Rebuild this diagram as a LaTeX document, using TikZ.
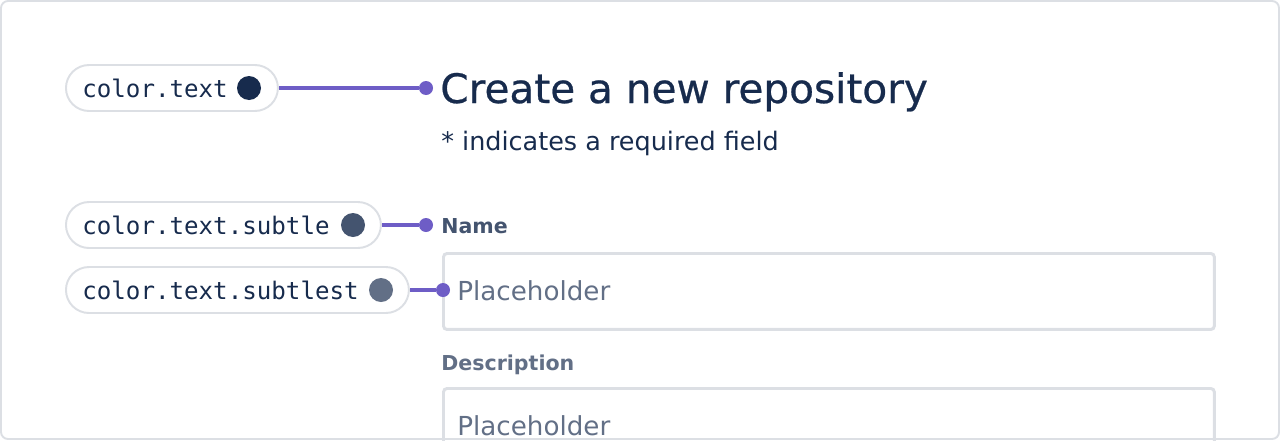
\documentclass[tikz,border=0pt]{standalone}
\usepackage{fontspec}
\setmainfont{DejaVu Sans}
\setmonofont{DejaVu Sans Mono}
\newfontfamily\headfont[FakeBold=0.6]{DejaVu Sans}
\usetikzlibrary{positioning}

\definecolor{tokentext}{HTML}{172B4D}
\definecolor{tokensubtle}{HTML}{44546F}
\definecolor{tokensubtlest}{HTML}{626F86}
\definecolor{linkpurple}{HTML}{6E5DC6}
\definecolor{pillgray}{HTML}{DCDFE4}

\begin{document}
\begin{tikzpicture}[x=0.02cm, y=-0.02cm,
    pill/.style={draw=pillgray, line width=1.1pt, fill=white, rounded corners=0.46cm,
      minimum height=0.92cm, inner sep=0, anchor=west},
    token/.style={font=\ttfamily\fontsize{13.75pt}{16pt}\selectfont, text=tokentext, inner sep=0, anchor=west},
    swatch/.style={circle, inner sep=0, minimum size=0.48cm},
    pin/.style={circle, fill=linkpurple, inner sep=0, minimum size=0.28cm},
    conn/.style={draw=linkpurple, line width=2.1pt},
    field/.style={draw=pillgray, line width=1.7pt, rounded corners=2pt, anchor=north west,
      minimum width=15.42cm, inner sep=0},
    hint/.style={font=\fontsize{14.9pt}{17pt}\selectfont, text=tokensubtlest, inner sep=0, anchor=base west},
    caption/.style={font=\bfseries\fontsize{11.7pt}{14pt}\selectfont, inner sep=0, anchor=base west}]
  \useasboundingbox (0,0) rectangle (1280,440);

  % input fields
  \node[field, minimum height=1.52cm] (field1) at (442,252) {};
  \node[field, minimum height=1.6cm] (field2) at (442,387) {};

  % outer frame
  \draw[pillgray, line width=1.1pt, rounded corners=4pt] (1,1) rectangle (1279,439);

  % token pills
  \node[pill, minimum width=4.24cm] (pill1) at (65,88) {};
  \node[token] (tok1) at (82,88) {color.text};
  \node[swatch, fill=tokentext] (dot1) at (249,88) {};

  \node[pill, minimum width=6.3cm] (pill2) at (65,225) {};
  \node[token] (tok2) at (82,225) {color.text.subtle};
  \node[swatch, fill=tokensubtle] (dot2) at (353,225) {};

  \node[pill, minimum width=6.86cm] (pill3) at (65,290) {};
  \node[token] (tok3) at (82,290) {color.text.subtlest};
  \node[swatch, fill=tokensubtlest] (dot3) at (381,290) {};

  % form texts
  \node[font=\headfont\fontsize{23.1pt}{27pt}\selectfont, text=tokentext, inner sep=0, anchor=base west] (title) at (440,103) {Create a new repository};
  \node[font=\fontsize{14.5pt}{17pt}\selectfont, text=tokentext, inner sep=0, anchor=base west] (sub) at (441,150) {* indicates a required field};
  \node[caption, text=tokensubtle] (name) at (441,233) {Name};
  \node[hint] (ph1) at (457,300) {Placeholder};
  \node[caption, text=tokensubtlest] (desc) at (441,370) {Description};
  \node[hint] (ph2) at (457,435) {Placeholder};

  % connectors
  \node[pin] (pin1) at (426,88) {};
  \node[pin] (pin2) at (426,225) {};
  \node[pin] (pin3) at (443,290) {};
  \draw[conn] (pill1.east) -- (pin1);
  \draw[conn] (pill2.east) -- (pin2);
  \draw[conn] (pill3.east) -- (pin3);
\end{tikzpicture}
\end{document}
